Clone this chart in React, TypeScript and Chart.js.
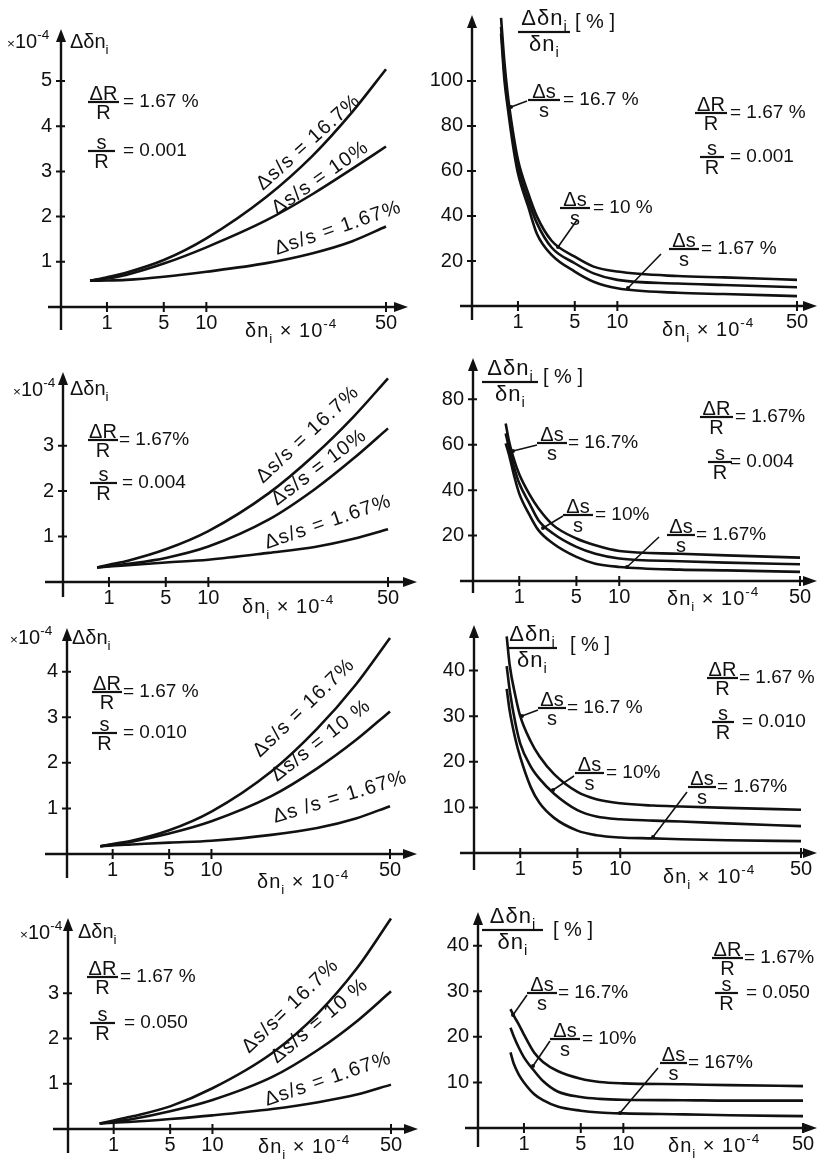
import React, { useEffect, useRef } from "react";
import { Chart, registerables, LinearScale } from "chart.js";

// ---------------- data ----------------
const X_TICKS = [1, 5, 10, 50];

// left column: absolute error Δδn_i (×10^-4)
const ABS1_X = [0.4, 1, 2, 5, 10, 20, 30, 40, 50];
const ABS1_S167 = [0.58, 0.66, 0.76, 1.04, 1.52, 2.44, 3.35, 4.3, 5.26];
const ABS1_S10 = [0.58, 0.63, 0.71, 0.96, 1.32, 1.92, 2.5, 3.05, 3.55];
const ABS1_S1 = [0.58, 0.585, 0.6, 0.67, 0.78, 0.97, 1.19, 1.45, 1.78];

const ABS2_X = [0.55, 1, 2, 5, 10, 20, 30, 40, 50];
const ABS2_S167 = [0.32, 0.38, 0.47, 0.72, 1.12, 1.95, 2.8, 3.64, 4.48];
const ABS2_S10 = [0.32, 0.35, 0.4, 0.53, 0.78, 1.37, 2.04, 2.72, 3.38];
const ABS2_S1 = [0.32, 0.34, 0.37, 0.43, 0.49, 0.64, 0.77, 0.95, 1.16];

const ABS3_X = [0.53, 1, 2, 5, 10, 20, 30, 40, 50];
const ABS3_S167 = [0.17, 0.22, 0.29, 0.52, 0.93, 1.81, 2.75, 3.72, 4.74];
const ABS3_S10 = [0.17, 0.21, 0.27, 0.45, 0.72, 1.27, 1.88, 2.5, 3.13];
const ABS3_S1 = [0.17, 0.19, 0.21, 0.25, 0.29, 0.42, 0.57, 0.78, 1.05];

const ABS4_X = [0.48, 1, 2, 5, 10, 20, 30, 40, 50];
const ABS4_S167 = [0.12, 0.19, 0.28, 0.5, 0.9, 1.68, 2.56, 3.55, 4.65];
const ABS4_S10 = [0.12, 0.16, 0.22, 0.39, 0.64, 1.15, 1.75, 2.38, 3.04];
const ABS4_S1 = [0.12, 0.14, 0.16, 0.22, 0.3, 0.44, 0.59, 0.76, 0.98];

// right column: relative error Δδn_i/δn_i [%]
const REL1_X = [0.4, 0.5, 0.6, 0.8, 1, 1.5, 2, 3, 5, 7, 10, 20, 30, 50];
const REL1_S167 = [128, 108, 94.5, 77, 65, 50, 39.7, 29, 21.9, 17.5, 15.3, 13.3, 12.7, 11.6];
const REL1_S10 = [124, 103, 91.5, 74, 62, 47, 36.7, 26, 19, 14.5, 11.6, 10, 9.3, 8.3];
const REL1_S1 = [121, 100, 88.6, 71, 59, 44, 32, 22.7, 15.3, 10.8, 7.9, 5.9, 5.3, 4.4];

const REL2_X = [0.5, 0.6, 0.8, 1, 1.5, 2, 3, 5, 7, 10, 20, 30, 50];
const REL2_S167 = [69.4, 62, 53, 47, 38, 32, 24.6, 18.7, 15.7, 13.2, 12, 11.3, 10.3];
const REL2_S10 = [65, 59, 49.6, 43, 34, 26.8, 20.9, 15, 12, 9.9, 8.7, 8.1, 7.4];
const REL2_S1 = [60.6, 56, 45.9, 38.5, 29, 22.4, 16.5, 10.6, 7.6, 6.2, 5, 4.7, 4];

const REL3_X = [0.5, 0.6, 0.8, 1, 1.5, 2, 3, 5, 7, 10, 15, 20, 30, 50];
const REL3_S167 = [47.5, 41, 34.5, 30, 24.5, 21.2, 17.3, 13.4, 11.8, 10.9, 10.4, 10.2, 9.9, 9.5];
const REL3_S10 = [41, 35.5, 28.5, 24, 19, 16.3, 13, 9.4, 8, 7.4, 7.1, 6.9, 6.5, 5.9];
const REL3_S1 = [36, 31, 25, 21, 14.5, 11, 7.7, 4.9, 3.9, 3.4, 3.2, 3, 2.8, 2.6];

const REL4_X = [0.5, 0.6, 0.8, 1, 1.5, 2, 3, 5, 7, 10, 20, 30, 50];
const REL4_S167 = [26.1, 24.7, 22.6, 20.5, 16.5, 14.5, 12.5, 10.8, 10.1, 9.8, 9.6, 9.4, 9.2];
const REL4_S10 = [22, 20.2, 17.5, 15.5, 12.5, 10.3, 8, 6.8, 6.4, 6.2, 6.1, 6, 6];
const REL4_S1 = [16.6, 14.2, 11.6, 10, 7.4, 6.1, 4.7, 3.8, 3.4, 3.2, 3, 2.8, 2.6];

const ABS_Y_TICKS = [[1, 2, 3, 4, 5], [1, 2, 3], [1, 2, 3, 4], [1, 2, 3]];
const REL_Y_TICKS = [[20, 40, 60, 80, 100], [20, 40, 60, 80], [10, 20, 30, 40], [10, 20, 30, 40]];
const ABS_Y_MAX = [6.15, 4.62, 4.96, 4.66];
const REL_Y_MAX = [129.3, 98.2, 50, 47.4];

const S_R_VALUES = ["0.001", "0.004", "0.010", "0.050"];

// ---------------- style ----------------
const INK = "#111";
const FONT = "'Liberation Sans', Arial, 'Noto Sans', sans-serif";
const FS = 20;

// ---------------- sqrt x scale ----------------
class SqrtScale extends LinearScale {
  static id = "sqrt";
  static defaults = LinearScale.defaults;
  getPixelForValue(value: any) {
    if (value === null || value === undefined || isNaN(value)) return NaN;
    const a = Math.sqrt(Math.max((this as any).min, 0));
    const b = Math.sqrt(Math.max((this as any).max, 0));
    return this.getPixelForDecimal((Math.sqrt(Math.max(value, 0)) - a) / (b - a));
  }
  getValueForPixel(pixel: number) {
    const a = Math.sqrt(Math.max((this as any).min, 0));
    const b = Math.sqrt(Math.max((this as any).max, 0));
    const s = a + this.getDecimalForPixel(pixel) * (b - a);
    return s * s;
  }
}
Chart.register(...registerables, SqrtScale as any);

// ---------------- text helpers ----------------
type Seg = [string, string];
const S_DR: Seg[] = [["ΔR", "n"]];
const S_R: Seg[] = [["R", "n"]];
const S_S: Seg[] = [["s", "n"]];
const S_DS: Seg[] = [["Δs", "n"]];
const S_DDN: Seg[] = [["Δδn", "n"], ["i", "b"]];
const S_DN: Seg[] = [["δn", "n"], ["i", "b"]];
const S_UNIT: Seg[] = [["×", "s"], ["10", "n"], ["-4", "p"]];
const S_XT: Seg[] = [["δn", "n"], ["i", "b"], [" × 10", "n"], ["-4", "p"]];

function segFont(size: number, mode: string) {
  const s = mode === "n" ? size : size * 0.68;
  return `${s}px ${FONT}`;
}
function segDy(size: number, mode: string) {
  return mode === "b" ? size * 0.3 : mode === "p" ? -size * 0.45 : 0;
}
function measureSegs(ctx: CanvasRenderingContext2D, segs: Seg[], size: number, ls = 0) {
  let w = 0;
  for (const [t, m] of segs) {
    ctx.font = segFont(size, m);
    for (const ch of t) w += ctx.measureText(ch).width + ls;
  }
  return w - ls;
}
function drawSegs(ctx: CanvasRenderingContext2D, x: number, y: number, segs: Seg[], size: number, ls = 0) {
  let cx = x;
  for (const [t, m] of segs) {
    ctx.font = segFont(size, m);
    for (const ch of t) {
      ctx.fillText(ch, cx, y + segDy(size, m));
      cx += ctx.measureText(ch).width + ls;
    }
  }
  return cx - x;
}

const F = (x: number, y: number, w: number, num: Seg[], den: Seg[], tail: string, tx: number, extra: any = {}) =>
  ({ t: "frac", x, y, w, num, den, tail, tx, ...extra });
const ROT = (x: number, y: number, angle: number, text: string) => ({ t: "rot", x, y, angle, text });
const LEAD = (x1: number, y1: number, x2: number, y2: number) => ({ t: "lead", x1, y1, x2, y2 });
const TXT = (x: number, y: number, segs: Seg[], extra: any = {}) => ({ t: "text", x, y, segs, ...extra });
const TITLE = (x: number, y: number, w: number, bx: number, by: number) =>
  F(x, y, w, S_DDN, S_DN, "", 0, { size: 22, ls: 1, nb: 7.5, bracket: [bx, by] });

// ---------------- panels ----------------
const LEFT = { cx: 0, cw: 430 };
const RIGHT = { cx: 430, cw: 388 };
const ROWS = [
  { cy: 0, ch: 348 },
  { cy: 348, ch: 272 },
  { cy: 620, ch: 275 },
  { cy: 895, ch: 267 },
];

const PANELS: any[] = [
  {
    ...LEFT, ...ROWS[0], ox: 61, oy: 307, x50: 386, yTop: 29, yMax: ABS_Y_MAX[0], xFrom: 48, xArrow: 408, yBottom: 330,
    xs: ABS1_X, series: [ABS1_S167, ABS1_S10, ABS1_S1], yTicks: ABS_Y_TICKS[0],
    anns: [
      TXT(7, 48, S_UNIT), TXT(70, 48, S_DDN),
      F(88, 102, 31, S_DR, S_R, "= 1.67 %", 123),
      F(88, 151, 27, S_S, S_R, "= " + S_R_VALUES[0], 123),
      ROT(263, 191, -42, "Δs/s = 16.7%"), ROT(277, 215, -35, "Δs/s = 10%"), ROT(277, 255, -19, "Δs/s = 1.67%"),
      TXT(245, 337, S_XT, { ls: 1 }),
    ],
  },
  {
    ...RIGHT, ...ROWS[0], ox: 472, oy: 306, x50: 797, yTop: 15, yMax: REL_Y_MAX[0], xFrom: 460, xArrow: 817, yBottom: 320,
    xs: REL1_X, series: [REL1_S167, REL1_S10, REL1_S1], yTicks: REL_Y_TICKS[0],
    anns: [
      TITLE(518, 32, 52, 575, 28),
      F(695, 113, 32, S_DR, S_R, "= 1.67 %", 730),
      F(700, 157, 24, S_S, S_R, "= " + S_R_VALUES[0], 730),
      F(528, 100, 32, S_DS, S_S, "= 16.7 %", 563), LEAD(527, 101, 511, 107),
      F(560, 208, 30, S_DS, S_S, "= 10 %", 593), LEAD(577, 220, 558, 247),
      F(669, 249, 30, S_DS, S_S, "= 1.67 %", 701), LEAD(661, 254, 628, 288),
      TXT(662, 336, S_XT, { ls: 1 }),
    ],
  },
  {
    ...LEFT, ...ROWS[1], ox: 63, oy: 582, x50: 388, yTop: 372, yMax: ABS_Y_MAX[1], xFrom: 45, xArrow: 417, yBottom: 597,
    xs: ABS2_X, series: [ABS2_S167, ABS2_S10, ABS2_S1], yTicks: ABS_Y_TICKS[1],
    anns: [
      TXT(13, 396, S_UNIT), TXT(70, 395, S_DDN),
      F(88, 440, 30, S_DR, S_R, "= 1.67%", 119),
      F(90, 483, 27, S_S, S_R, "= " + S_R_VALUES[1], 122),
      ROT(263, 484, -43, "Δs/s = 16.7%"), ROT(277, 506, -37, "Δs/s = 10%"), ROT(267, 549, -19, "Δs/s = 1.67%"),
      TXT(242, 613, S_XT, { ls: 1 }),
    ],
  },
  {
    ...RIGHT, ...ROWS[1], ox: 473, oy: 581, x50: 800, yTop: 358, yMax: REL_Y_MAX[1], xFrom: 460, xArrow: 817, yBottom: 593,
    xs: REL2_X, series: [REL2_S167, REL2_S10, REL2_S1], yTicks: REL_Y_TICKS[1],
    anns: [
      TITLE(482, 382, 56, 543, 383),
      F(700, 417, 33, S_DR, S_R, "= 1.67%", 735),
      F(708, 462, 24, S_S, S_R, "= " + S_R_VALUES[1], 730),
      F(537, 443, 30, S_DS, S_S, "= 16.7%", 568), LEAD(537, 445, 513, 451),
      F(563, 515, 30, S_DS, S_S, "= 10%", 595), LEAD(563, 516, 543, 528),
      F(667, 535, 28, S_DS, S_S, "= 1.67%", 696), LEAD(659, 537, 627, 567),
      TXT(667, 605, S_XT, { ls: 1 }),
    ],
  },
  {
    ...LEFT, ...ROWS[2], ox: 67, oy: 854, x50: 390, yTop: 628, yMax: ABS_Y_MAX[2], xFrom: 45, xArrow: 417, yBottom: 878,
    xs: ABS3_X, series: [ABS3_S167, ABS3_S10, ABS3_S1], yTicks: ABS_Y_TICKS[2],
    anns: [
      TXT(10, 644, S_UNIT), TXT(72, 644, S_DDN),
      F(92, 692, 30, S_DR, S_R, "= 1.67 %", 123),
      F(92, 733, 25, S_S, S_R, "= " + S_R_VALUES[2], 123),
      ROT(260, 758, -44, "Δs/s = 16.7%"), ROT(277, 782, -38, "Δs/s = 10 %"), ROT(275, 823, -17, "Δs /s = 1.67%"),
      TXT(257, 888, S_XT, { ls: 1 }),
    ],
  },
  {
    ...RIGHT, ...ROWS[2], ox: 474, oy: 853, x50: 801, yTop: 625, yMax: REL_Y_MAX[2], xFrom: 460, xArrow: 817, yBottom: 870,
    xs: REL3_X, series: [REL3_S167, REL3_S10, REL3_S1], yTicks: REL_Y_TICKS[2],
    anns: [
      TITLE(507, 648, 50, 570, 651),
      F(707, 678, 31, S_DR, S_R, "= 1.67 %", 739),
      F(712, 722, 22, S_S, S_R, "= " + S_R_VALUES[2], 742),
      F(538, 708, 28, S_DS, S_S, "= 16.7 %", 567), LEAD(538, 710, 522, 716),
      F(575, 773, 29, S_DS, S_S, "= 10%", 606), LEAD(574, 776, 553, 790),
      F(688, 787, 28, S_DS, S_S, "= 1.67%", 717), LEAD(687, 792, 653, 837),
      TXT(663, 883, S_XT, { ls: 1 }),
    ],
  },
  {
    ...LEFT, ...ROWS[3], ox: 68, oy: 1129, x50: 391, yTop: 918, yMax: ABS_Y_MAX[3], xFrom: 53, xArrow: 418, yBottom: 1153,
    xs: ABS4_X, series: [ABS4_S167, ABS4_S10, ABS4_S1], yTicks: ABS_Y_TICKS[3],
    anns: [
      TXT(20, 939, S_UNIT), TXT(78, 938, S_DDN),
      F(87, 977, 31, S_DR, S_R, "= 1.67 %", 120),
      F(90, 1023, 25, S_S, S_R, "= " + S_R_VALUES[3], 124),
      ROT(249, 1054, -44, "Δs/s= 16.7%"), ROT(277, 1064, -40, "Δs/s = 10 %"), ROT(267, 1106, -19, "Δs/s = 1.67%"),
      TXT(258, 1153, S_XT, { ls: 1 }),
    ],
  },
  {
    ...RIGHT, ...ROWS[3], ox: 478, oy: 1128, x50: 803, yTop: 912, yMax: REL_Y_MAX[3], xFrom: 465, xArrow: 817, yBottom: 1147,
    xs: REL4_X, series: [REL4_S167, REL4_S10, REL4_S1], yTicks: REL_Y_TICKS[3],
    anns: [
      TITLE(482, 930, 61, 553, 936),
      F(712, 958, 31, S_DR, S_R, "= 1.67%", 744),
      F(715, 993, 23, S_S, S_R, "= " + S_R_VALUES[3], 746),
      F(527, 993, 30, S_DS, S_S, "= 16.7%", 558), LEAD(527, 995, 513, 1015),
      F(550, 1039, 30, S_DS, S_S, "= 10%", 582), LEAD(550, 1041, 533, 1066),
      F(660, 1063, 27, S_DS, S_S, "= 167%", 688), LEAD(658, 1068, 620, 1113),
      TXT(668, 1152, S_XT, { ls: 1 }),
    ],
  },
];

// ---------------- drawing plugin ----------------
function decoPlugin(cfg: any) {
  return {
    id: "deco",
    afterDraw(chart: any) {
      const ctx: CanvasRenderingContext2D = chart.ctx;
      const xs = chart.scales.x;
      const ys = chart.scales.y;
      const ox = xs.getPixelForValue(0);
      const oy = ys.getPixelForValue(0);
      const top = chart.chartArea.top;
      const xFrom = cfg.xFrom - cfg.cx;
      const xTip = cfg.xArrow - cfg.cx;
      const yBot = cfg.yBottom - cfg.cy;
      ctx.save();
      ctx.strokeStyle = INK;
      ctx.fillStyle = INK;
      ctx.lineWidth = 2.4;
      ctx.beginPath();
      ctx.moveTo(xFrom, oy);
      ctx.lineTo(xTip - 10, oy);
      ctx.moveTo(ox, yBot);
      ctx.lineTo(ox, top + 10);
      ctx.stroke();
      ctx.beginPath();
      ctx.moveTo(xTip, oy);
      ctx.lineTo(xTip - 14, oy - 5);
      ctx.lineTo(xTip - 14, oy + 5);
      ctx.closePath();
      ctx.fill();
      ctx.beginPath();
      ctx.moveTo(ox, top);
      ctx.lineTo(ox - 5, top + 13);
      ctx.lineTo(ox + 5, top + 13);
      ctx.closePath();
      ctx.fill();
      ctx.lineWidth = 2;
      ctx.beginPath();
      for (const v of X_TICKS) {
        const p = xs.getPixelForValue(v);
        ctx.moveTo(p, oy - 5);
        ctx.lineTo(p, oy + 5);
      }
      for (const v of cfg.yTicks) {
        const p = ys.getPixelForValue(v);
        ctx.moveTo(ox - 5, p);
        ctx.lineTo(ox + 4, p);
      }
      ctx.stroke();

      ctx.translate(-cfg.cx, -cfg.cy);
      ctx.textAlign = "left";
      ctx.textBaseline = "alphabetic";
      for (const a of cfg.anns) {
        const size = a.size || FS;
        if (a.t === "text") {
          drawSegs(ctx, a.x, a.y, a.segs, size, a.ls || 0);
        } else if (a.t === "frac") {
          const ls = a.ls || 0;
          const wn = measureSegs(ctx, a.num, size, ls);
          const wd = measureSegs(ctx, a.den, size, ls);
          drawSegs(ctx, a.x + (a.w - wn) / 2, a.y - (a.nb ?? 2.5), a.num, size, ls);
          drawSegs(ctx, a.x + (a.w - wd) / 2, a.y + 3 + size * 0.72, a.den, size, ls);
          ctx.fillRect(a.x, a.y - 1.1, a.w, 2.2);
          if (a.tail) drawSegs(ctx, a.tx, a.y + 5, [[a.tail, "n"]], 19, 0);
          if (a.bracket) drawSegs(ctx, a.bracket[0], a.bracket[1], [["[ % ]", "n"]], 20, 0);
        } else if (a.t === "rot") {
          ctx.save();
          ctx.translate(a.x, a.y);
          ctx.rotate((a.angle * Math.PI) / 180);
          drawSegs(ctx, 0, 0, [[a.text, "n"]], size, 1.2);
          ctx.restore();
        } else if (a.t === "lead") {
          ctx.lineWidth = 1.6;
          ctx.beginPath();
          ctx.moveTo(a.x1, a.y1);
          ctx.lineTo(a.x2, a.y2);
          ctx.stroke();
          ctx.beginPath();
          ctx.arc(a.x2, a.y2, 2, 0, Math.PI * 2);
          ctx.fill();
        }
      }
      ctx.restore();
    },
  };
}

function zeroPad(s: any) {
  s.paddingLeft = 0;
  s.paddingRight = 0;
  s.paddingTop = 0;
  s.paddingBottom = 0;
}

function Panel({ cfg }: { cfg: any }) {
  const ref = useRef<HTMLCanvasElement>(null);
  useEffect(() => {
    const tickFont = { family: FONT, size: FS };
    const chart = new Chart(ref.current as HTMLCanvasElement, {
      type: "line",
      data: {
        datasets: cfg.series.map((s: number[]) => ({
          data: cfg.xs.map((x: number, i: number) => ({ x, y: s[i] })),
          borderColor: INK,
          borderWidth: 2.6,
          pointRadius: 0,
          fill: false,
          cubicInterpolationMode: "monotone",
          clip: false,
        })),
      },
      options: {
        animation: false,
        responsive: false,
        maintainAspectRatio: false,
        events: [],
        layout: {
          padding: { left: 0, top: cfg.yTop - cfg.cy, right: cfg.cx + cfg.cw - cfg.x50, bottom: 0 },
        },
        plugins: { legend: { display: false }, tooltip: { enabled: false } },
        scales: {
          x: {
            type: "sqrt" as any,
            min: 0,
            max: 50,
            grid: { display: false, drawTicks: false },
            border: { display: false },
            ticks: { font: tickFont, color: INK, padding: 4, autoSkip: false, maxRotation: 0, callback: (v: any) => String(v) },
            afterBuildTicks: (s: any) => {
              s.ticks = X_TICKS.map((v) => ({ value: v }));
            },
            afterFit: (s: any) => {
              s.height = cfg.cy + cfg.ch - cfg.oy;
              zeroPad(s);
            },
          },
          y: {
            type: "linear",
            min: 0,
            max: cfg.yMax,
            grid: { display: false, drawTicks: false },
            border: { display: false },
            ticks: { font: tickFont, color: INK, padding: 9, autoSkip: false, callback: (v: any) => String(v) },
            afterBuildTicks: (s: any) => {
              s.ticks = cfg.yTicks.map((v: number) => ({ value: v }));
            },
            afterFit: (s: any) => {
              s.width = cfg.ox - cfg.cx;
              zeroPad(s);
            },
          },
        },
      } as any,
      plugins: [decoPlugin(cfg)],
    });
    return () => chart.destroy();
  }, []);
  return (
    <canvas
      ref={ref}
      width={cfg.cw}
      height={cfg.ch}
      style={{ position: "absolute", left: cfg.cx, top: cfg.cy, width: cfg.cw, height: cfg.ch }}
    />
  );
}

export default function App() {
  return (
    <div style={{ position: "absolute", left: 0, top: 0, width: 818, height: 1162, background: "#fff", overflow: "hidden" }}>
      {PANELS.map((p, i) => (
        <Panel key={i} cfg={p} />
      ))}
    </div>
  );
}
